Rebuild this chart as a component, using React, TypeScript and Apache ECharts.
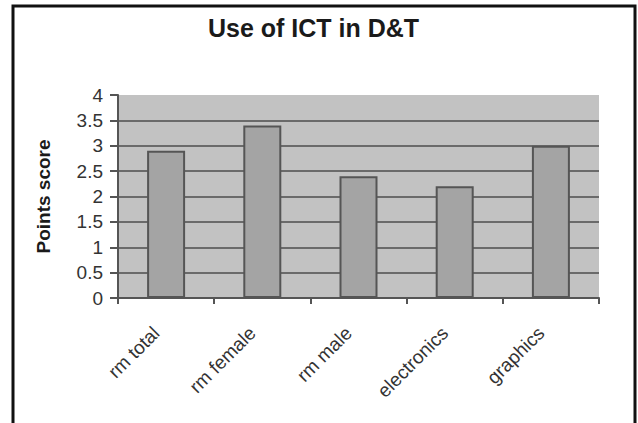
import React, { useEffect, useRef } from "react";
import * as echarts from "echarts";

const categories = ["rm total", "rm female", "rm male", "electronics", "graphics"];
const scores = [2.9, 3.4, 2.4, 2.2, 3.0];
const titleText = "Use of ICT in D&T";
const yAxisName = "Points score";

export default function App() {
  const ref = useRef<HTMLDivElement>(null);
  useEffect(() => {
    if (!ref.current) return;
    const chart = echarts.init(ref.current, null, { renderer: "svg" });
    chart.setOption({
      animation: false,
      backgroundColor: "#ffffff",
      title: {
        text: titleText,
        left: 203,
        top: 10,
        textStyle: {
          fontFamily: "Liberation Sans, Arial, sans-serif",
          fontSize: 25,
          fontWeight: "bold",
          color: "#1a1a1a",
        },
      },
      graphic: [
        {
          type: "rect",
          shape: { x: 13, y: 6, width: 622, height: 440 },
          style: { fill: "none", stroke: "#111", lineWidth: 3 },
          silent: true,
        },
      ],
      grid: {
        left: 118,
        top: 95,
        right: 39,
        bottom: 125,
        show: true,
        backgroundColor: "#c2c2c2",
        borderWidth: 0,
      },
      xAxis: {
        type: "category",
        data: categories,
        axisLine: { show: true, lineStyle: { color: "#555", width: 2 } },
        axisTick: { show: true, alignWithLabel: false, length: 6, lineStyle: { color: "#555", width: 2 } },
        axisLabel: {
          rotate: 45,
          margin: 22,
          padding: [0, 14, 0, 0],
          fontSize: 19,
          fontFamily: "Liberation Sans, Arial, sans-serif",
          color: "#333",
        },
        splitLine: { show: false },
      },
      yAxis: {
        type: "value",
        min: 0,
        max: 4,
        interval: 0.5,
        name: yAxisName,
        nameLocation: "middle",
        nameRotate: 90,
        nameGap: 65,
        nameTextStyle: {
          fontFamily: "Liberation Sans, Arial, sans-serif",
          fontSize: 19,
          fontWeight: "bold",
          color: "#1a1a1a",
        },
        axisLine: { show: true, lineStyle: { color: "#555", width: 2 } },
        axisTick: { show: true, length: 8, lineStyle: { color: "#555", width: 2 } },
        axisLabel: {
          margin: 15,
          fontSize: 19,
          fontFamily: "Liberation Sans, Arial, sans-serif",
          color: "#333",
        },
        splitLine: {
          show: true,
          showMaxLine: false,
          lineStyle: { color: "#6a6a6a", width: 2 },
        },
      },
      series: [
        {
          type: "bar",
          data: scores,
          barWidth: 38,
          itemStyle: { color: "#a4a4a4", borderColor: "#555", borderWidth: 2 },
        },
      ],
    });
    return () => chart.dispose();
  }, []);
  return (
    <div
      ref={ref}
      style={{ position: "absolute", left: 0, top: 0, width: 638, height: 423 }}
    />
  );
}
